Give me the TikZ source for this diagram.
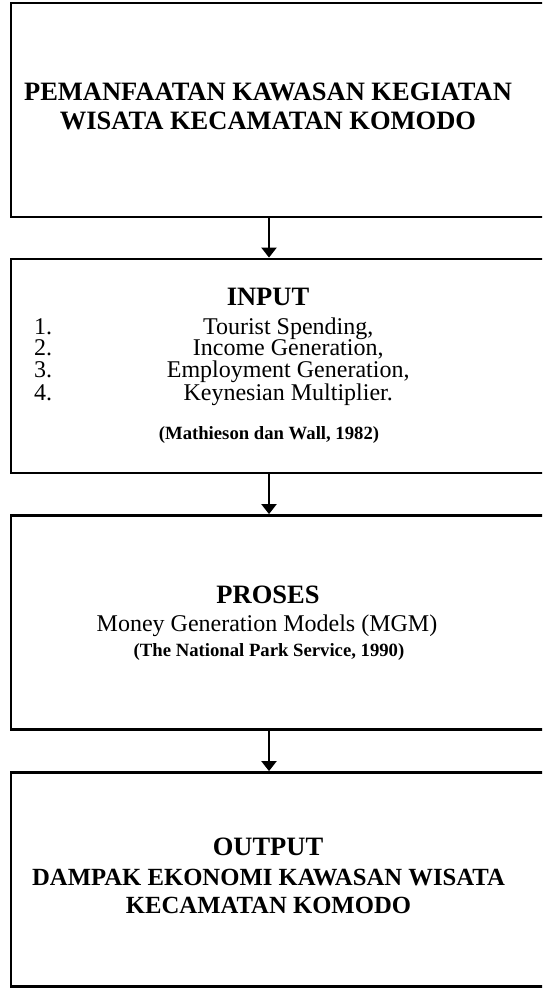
\documentclass[tikz,border=0pt]{standalone}
\usepackage{fontspec}
\setmainfont{Liberation Serif}
\usetikzlibrary{arrows.meta}

\tikzset{
  box/.style={draw, line width=2.8pt, minimum width=539pt, minimum height=214pt, inner sep=0pt},
  head/.style={anchor=base, inner sep=0pt, font=\fontsize{26.5}{26.5}\selectfont\bfseries},
  item/.style={anchor=base, inner sep=0pt, font=\fontsize{24}{21.8}\selectfont},
  cite/.style={anchor=base, inner sep=0pt, font=\fontsize{18.7}{18.7}\selectfont\bfseries},
  flow/.style={line width=2pt, -{Triangle[width=15pt,length=10pt]}}
}
\newcommand{\listrow}[2]{\makebox[50pt][l]{#1}\makebox[408pt]{#2}}

\begin{document}
\begin{tikzpicture}[x=1pt,y=-1pt]
  \useasboundingbox (0,0) rectangle (542,988);
  \clip (0,0) rectangle (542,988);

  \node (pemanfaatan) [box] at (280.5,110)   {};
  \node (input)       [box] at (280.5,366)   {};
  \node (proses)      [box] at (280.5,622.5) {};
  \node (output)      [box] at (280.5,879.5) {};
  \coordinate (axis) at (269,0);

  \node (p1) [head] at (268,100)   {PEMANFAATAN KAWASAN KEGIATAN};
  \node (p2) [head] at (268,129.5) {WISATA KECAMATAN KOMODO};

  \node (inhead) [head] at (268,305.5) {INPUT};
  % base of a multi-line node = baseline of its last line
  \node (inlist) [item,anchor=base west,align=left] at (34,400.5)
    {\listrow{1.}{Tourist Spending,}\\
     \listrow{2.}{Income Generation,}\\
     \listrow{3.}{Employment Generation,}\\
     \listrow{4.}{Keynesian Multiplier.}};
  \node (incite) [cite] at (269,439) {(Mathieson dan Wall, 1982)};

  \node (prhead) [head] at (268,603)  {PROSES};
  \node (mgm) [item] at (267,631.5)   {Money Generation Models (MGM)};
  \node (prcite) [cite] at (269,656.5) {(The National Park Service, 1990)};

  \node (outhead) [head] at (268,855) {OUTPUT};
  \node (o1) [head,font=\fontsize{24.7}{24.7}\selectfont\bfseries] at (268.5,885) {DAMPAK EKONOMI KAWASAN WISATA};
  \node (o2) [head,font=\fontsize{24.7}{24.7}\selectfont\bfseries] at (268.5,913) {KECAMATAN KOMODO};

  \draw [flow] (pemanfaatan.south -| axis) -- (input.north -| axis);
  \draw [flow] (input.south -| axis) -- (proses.north -| axis);
  \draw [flow] (proses.south -| axis) -- (output.north -| axis);
\end{tikzpicture}
\end{document}
